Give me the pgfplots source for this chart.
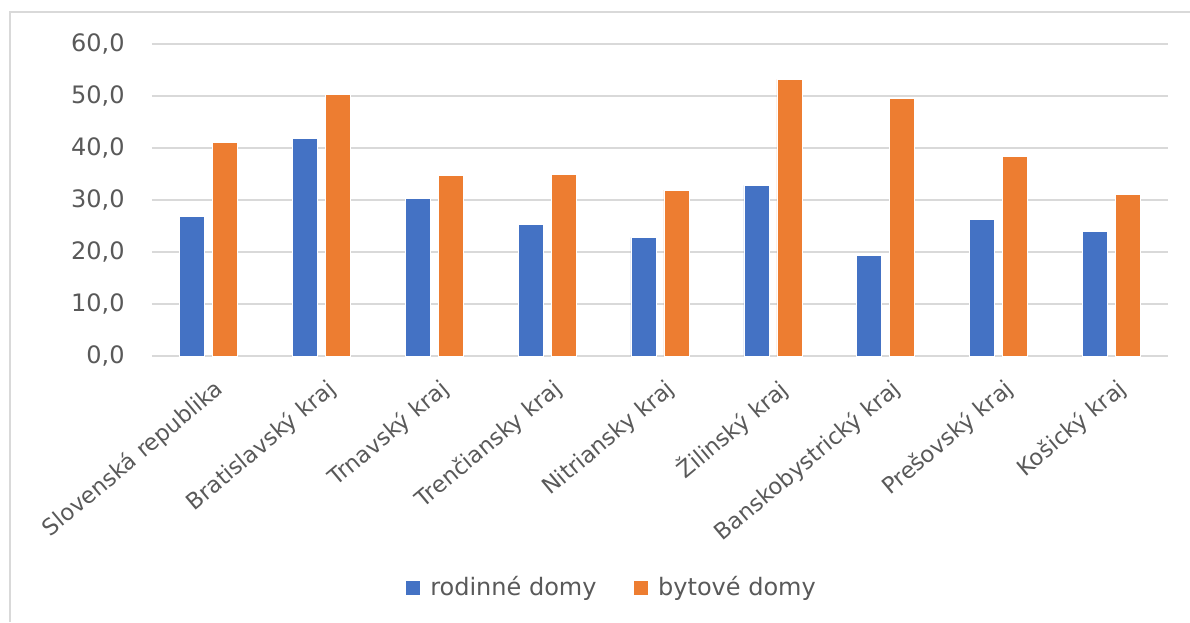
\documentclass[border=0pt]{standalone}
\usepackage{fontspec}
\setmainfont{DejaVu Sans}
\usepackage{pgfplots}
\pgfplotsset{compat=1.18}
\definecolor{xlblue}{HTML}{4472C4}
\definecolor{xlorange}{HTML}{ED7D31}
\definecolor{xltext}{HTML}{595959}
\definecolor{xlgrid}{HTML}{D9D9D9}
\begin{document}
\begin{tikzpicture}
\fontsize{12}{14}\selectfont
\path[use as bounding box] (0,0) rectangle (595pt,311pt);
\draw[xlgrid, line width=1pt] (5pt,0) -- (5pt,305pt) -- (600pt,305pt);
\begin{axis}[
    at={(76pt,133pt)}, anchor=south west,
    scale only axis,
    width=508pt, height=156pt,
    xmin=-0.5, xmax=8.5,
    ymin=0, ymax=60,
    ytick={0,10,...,60},
    xtick={0,...,8},
    xticklabels={Slovenská republika, Bratislavský kraj, Trnavský kraj, Trenčiansky kraj, Nitriansky kraj, Žilinský kraj, Banskobystrický kraj, Prešovský kraj, Košický kraj},
    xticklabel style={xshift=9pt, yshift=-12.5pt, rotate=40, anchor=east, font=\fontsize{11.3}{14}\selectfont, text=xltext},
    yticklabel style={font=\fontsize{12}{14}\selectfont, text=xltext, xshift=-9.5pt},
    /pgf/number format/assume math mode=true,
    /pgf/number format/.cd, fixed, fixed zerofill, precision=1, use comma, /pgfplots/.cd,
    axis line style={draw=none},
    major tick length=0pt,
    ymajorgrids,
    grid style={xlgrid, line width=0.8pt},
    ybar, bar width=12.5pt,
    legend style={at={(0.453,-0.744)}, anchor=center, legend columns=2, draw=none,
        font=\fontsize{12}{14}\selectfont, text=xltext,
        /tikz/every odd column/.style={column sep=3pt},
        /tikz/every even column/.style={column sep=16pt}},
    legend image code/.code={\fill[#1] (0pt,-3.75pt) rectangle (7.5pt,3.75pt);},
]
\addplot[fill=xlblue, draw=white, line width=0.3pt, bar shift=-8.25pt] coordinates {
  (0,26.9) (1,41.9) (2,30.3) (3,25.3) (4,22.8) (5,32.8) (6,19.4) (7,26.3) (8,23.9)};
\addplot[fill=xlorange, draw=white, line width=0.3pt, bar shift=8.25pt] coordinates {
  (0,41.1) (1,50.3) (2,34.7) (3,35.0) (4,31.9) (5,53.2) (6,49.5) (7,38.4) (8,31.1)};
\legend{rodinné domy, bytové domy}
\end{axis}
\end{tikzpicture}
\end{document}
